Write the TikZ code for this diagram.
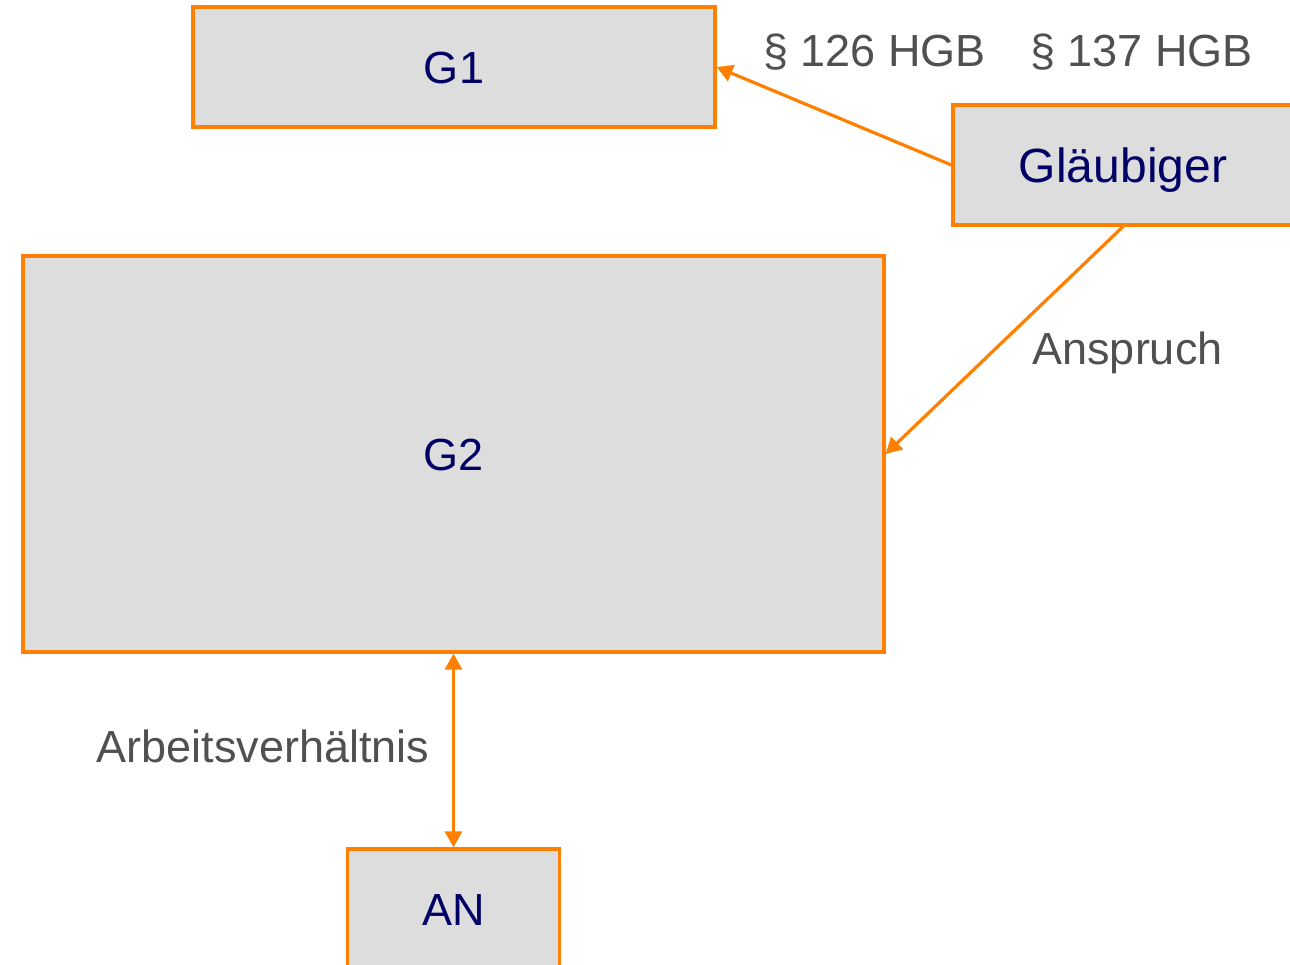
\documentclass[tikz,border=0pt]{standalone}
\usepackage{fontspec}
\setmainfont{Liberation Sans}
\usetikzlibrary{arrows.meta}
\definecolor{boxorange}{HTML}{FF8000}
\definecolor{boxfill}{HTML}{DDDDDD}
\definecolor{navytext}{HTML}{000066}
\definecolor{graytext}{HTML}{505050}
\begin{document}
\begin{tikzpicture}[x=0.5pt,y=-0.5pt,
  box/.style={draw=boxorange, fill=boxfill, line width=1.6pt, inner sep=0pt,
    font=\fontsize{22.5pt}{26pt}\selectfont, text=navytext,
    text height=16.1pt, text depth=0pt},
  lbl/.style={anchor=base, inner sep=0pt, font=\fontsize{22.5pt}{26pt}\selectfont, text=graytext},
  conn/.style={draw=boxorange, line width=1.6pt, -{Triangle[length=8pt,width=8.5pt]}}]
\useasboundingbox (0,0) rectangle (1290,964);
\clip (0,0) rectangle (1290,964);
\fill[white] (0,0) rectangle (1290,964);
\node[box, minimum width=261pt, minimum height=60pt] (g1) at (454,67) {G1};
\node[box, minimum width=170pt, minimum height=60pt, font=\fontsize{24pt}{28pt}\selectfont, text height=17.2pt] (gl) at (1123,165) {Gläubiger};
\node[box, minimum width=430.5pt, minimum height=198pt] (g2) at (453.5,454) {G2};
\node[box, minimum width=106pt, minimum height=60pt] (an) at (453.5,909) {AN};
\draw[conn] (gl.west) -- (g1.east);
\draw[conn] (gl.south) -- (g2.east);
\draw[conn, {Triangle[length=8pt,width=8.5pt]}-{Triangle[length=8pt,width=8.5pt]}] (g2.south) -- (an.north);
\node[lbl] (p126) at (874.5,66) {§ 126 HGB};
\node[lbl] (p137) at (1141.5,66) {§ 137 HGB};
\node[lbl] (ansp) at (1127.5,364) {Anspruch};
\node[lbl] (arb) at (263,762) {Arbeitsverhältnis};
\end{tikzpicture}
\end{document}
